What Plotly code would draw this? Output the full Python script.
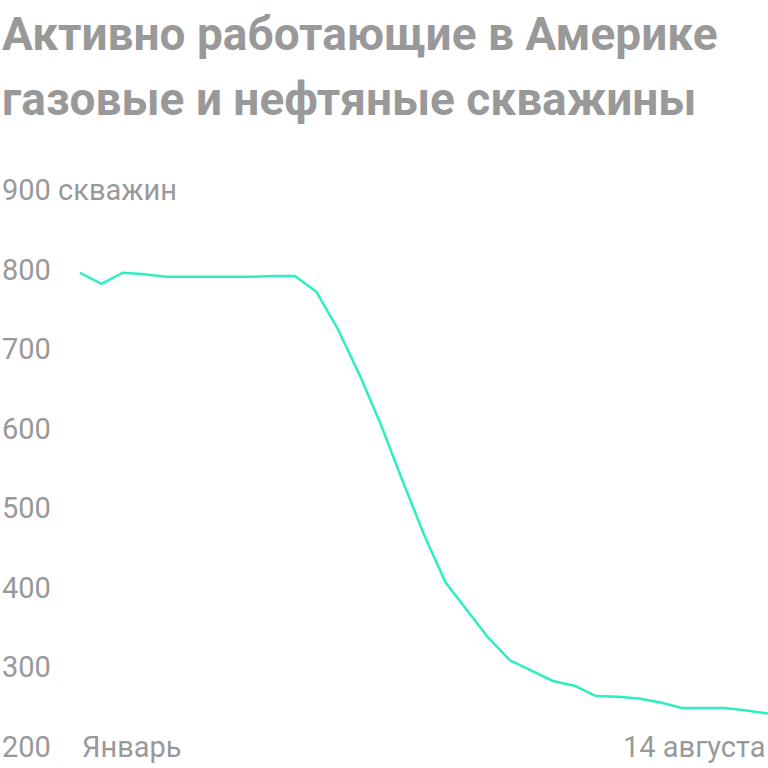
import pandas as pd
import plotly.graph_objects as go

# Данные: число активных буровых (нефть + газ), по неделям
dates = pd.date_range('2020-01-03', '2020-08-14', freq='7D')
wells = [796, 782, 796, 794, 791, 791, 791, 791, 791, 792, 792, 772,
         725, 668, 605, 535, 467, 407, 372, 337, 309, 296, 283, 277,
         264, 263, 261, 256, 249, 249, 249, 246, 242]

y_ticks = [200, 300, 400, 500, 600, 700, 800, 900]
y_text = ['200', '300', '400', '500', '600', '700', '800', '900 скважин']
x_labels = ['Январь', '14 августа']
title_lines = ['Активно работающие в Америке', 'газовые и нефтяные скважины']

grey = '#999999'
line_color = '#2cefc0'
tick_size = 29

fig = go.Figure()
fig.add_trace(go.Scatter(
    x=dates, y=wells,
    mode='lines',
    line=dict(color=line_color, width=2.5),
    hoverinfo='skip'
))

# подписи по оси Y (слева, выровнены по левому краю)
for v, t in zip(y_ticks, y_text):
    fig.add_annotation(x=0, y=v, xref='paper', yref='y', text=t,
                       xanchor='left', yanchor='middle', showarrow=False,
                       font=dict(size=tick_size, color=grey))

# подписи по оси X
fig.add_annotation(x=dates[0], y=200, xref='x', yref='y', text=x_labels[0],
                   xanchor='left', yanchor='middle', showarrow=False,
                   font=dict(size=tick_size, color=grey))
fig.add_annotation(x=dates[-1], y=200, xref='x', yref='y', text=x_labels[1],
                   xanchor='right', yanchor='middle', showarrow=False,
                   font=dict(size=tick_size, color=grey))

# заголовок, две строки
for i, line in enumerate(title_lines):
    top_px = 5 + i * 65
    fig.add_annotation(x=0, y=1 + (190 - top_px) / 557, xref='paper', yref='paper',
                       text='<b>' + line + '</b>',
                       xanchor='left', yanchor='top', align='left', showarrow=False,
                       font=dict(size=46, color=grey))

x_start = dates[0] - pd.Timedelta(days=26)

fig.update_layout(
    width=768, height=768,
    margin=dict(l=0, r=0, t=190, b=21),
    paper_bgcolor='white',
    plot_bgcolor='white',
    showlegend=False,
    font=dict(family='Roboto, sans-serif', color=grey),
    xaxis=dict(range=[x_start, dates[-1]], showgrid=False, zeroline=False,
               showticklabels=False, showline=False),
    yaxis=dict(range=[200, 900], showgrid=False, zeroline=False,
               showticklabels=False, showline=False),
)

fig.write_html('out.html', config={'displayModeBar': False},
               post_script="document.body.style.margin='0';")
